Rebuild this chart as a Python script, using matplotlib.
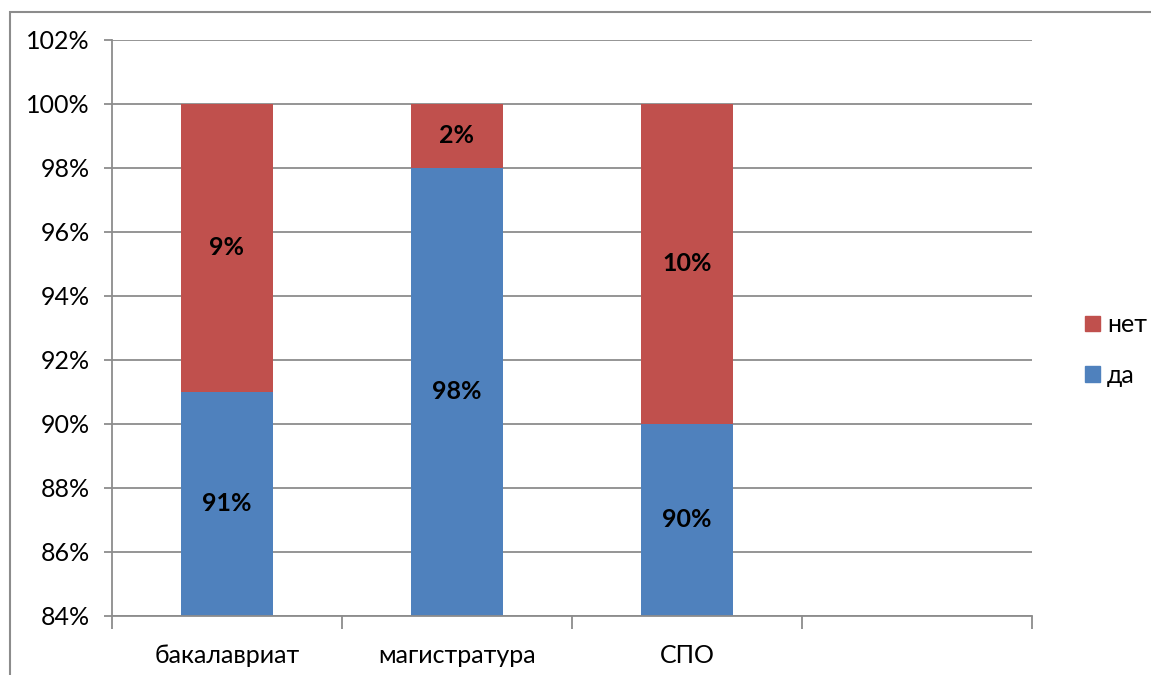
import matplotlib.pyplot as plt
from matplotlib.patches import Rectangle, Patch
from matplotlib.ticker import FixedLocator, FuncFormatter

plt.rcParams['font.family'] = ['Lato', 'DejaVu Sans']

categories = ['бакалавриат', 'магистратура', 'СПО', '']
da = [91, 98, 90, None]
net = [9, 2, 10, None]
y_ticks = [84, 86, 88, 90, 92, 94, 96, 98, 100, 102]

blue = '#4F81BD'
red = '#C0504D'
grid_c = '#8c8c8c'
ymin, ymax = 84, 102
fs = 18

fig = plt.figure(figsize=(11.51, 6.75), dpi=100)
fig.patches.append(Rectangle((10/1151, -0.05), 1.2, 1 - 12/675 + 0.05,
                             transform=fig.transFigure, fill=False,
                             edgecolor='#8c8c8c', linewidth=1.5))
ax = fig.add_axes([112/1151, 1 - 616/675, 920/1151, 576/675])

x = list(range(len(categories)))
w = 0.404
for i in x:
    if da[i] is None:
        continue
    ax.bar(i, da[i], width=w, color=blue, zorder=2)
    ax.bar(i, net[i], bottom=da[i], width=w, color=red, zorder=2)
    ax.text(i, (ymin + da[i]) / 2, f'{da[i]}%', ha='center', va='center',
            fontsize=fs, fontweight='bold', color='black', zorder=3)
    ax.text(i, da[i] + net[i] / 2, f'{net[i]}%', ha='center', va='center',
            fontsize=fs, fontweight='bold', color='black', zorder=3)

ax.set_ylim(ymin, ymax)
ax.set_xlim(-0.5, len(categories) - 0.5)
ax.set_yticks(y_ticks)
ax.yaxis.set_major_formatter(FuncFormatter(lambda v, p: f'{v:.0f}%'))
ax.grid(axis='y', color=grid_c, linewidth=1.3, zorder=0)

ax.xaxis.set_major_locator(FixedLocator([i - 0.5 for i in range(len(categories) + 1)]))
ax.xaxis.set_major_formatter(FuncFormatter(lambda v, p: ''))
ax.xaxis.set_minor_locator(FixedLocator(x))
ax.set_xticklabels(categories, minor=True)
ax.tick_params(axis='x', which='major', length=9, width=1.3, color=grid_c, direction='out')
ax.tick_params(axis='x', which='minor', length=0, pad=20, labelsize=fs)
ax.tick_params(axis='y', length=6, width=1.3, color=grid_c, labelsize=fs, pad=10)

for s in ['top', 'right']:
    ax.spines[s].set_visible(False)
for s in ['left', 'bottom']:
    ax.spines[s].set_color(grid_c)
    ax.spines[s].set_linewidth(1.3)

handles = [Patch(color=red, label='нет'), Patch(color=blue, label='да')]
fig.legend(handles=handles, loc='center left', bbox_to_anchor=(1072/1151, 1 - 350/675),
           frameon=False, fontsize=fs, handlelength=0.6, handleheight=0.6,
           handletextpad=0.3, labelspacing=1.1, borderpad=0)

fig.savefig('out.png', dpi=100)
